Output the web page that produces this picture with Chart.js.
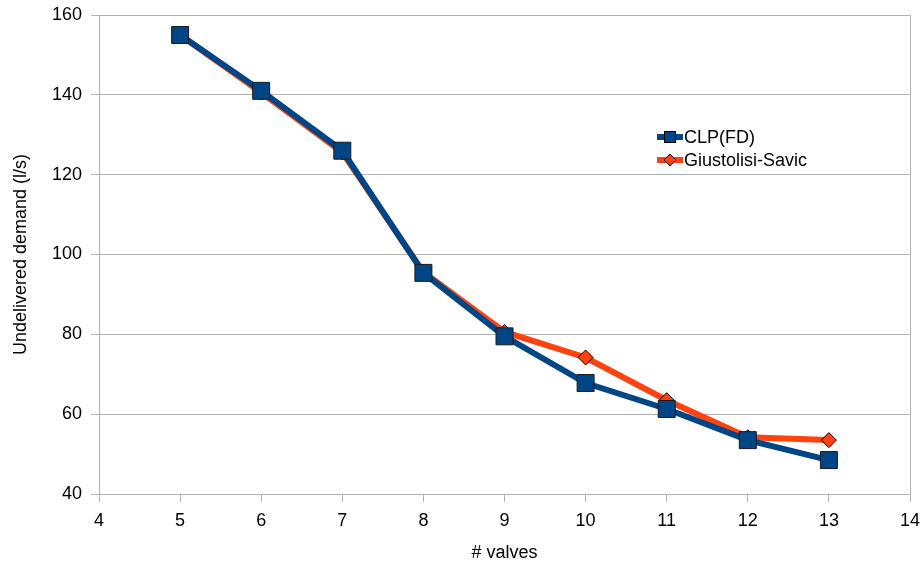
<!DOCTYPE html>
<html>
<head>
<meta charset="utf-8">
<script src="https://cdn.jsdelivr.net/npm/chart.js@4"></script>
<style>
  html, body { margin: 0; padding: 0; background: #fff; }
  #wrap { width: 923px; height: 566px; }
</style>
</head>
<body>
<div id="wrap"><canvas id="myChart" width="923" height="566"></canvas></div>
<script>
const valves = [5, 6, 7, 8, 9, 10, 11, 12, 13]
const clpFD = [155, 141, 126, 95.4, 79.5, 67.8, 61.3, 53.5, 48.5]
const giustolisi = [155, 140.6, 125.6, 95.6, 80.6, 74.2, 63.5, 54.2, 53.5]
const xTicks = [4, 5, 6, 7, 8, 9, 10, 11, 12, 13, 14]
const yTicks = [40, 60, 80, 100, 120, 140, 160]

const blue = '#004586'
const orange = '#ff420e'
const gridColor = '#b3b3b3'
const fontFam = '"Liberation Sans", Arial, sans-serif'

const toPoints = (xs, ys) => xs.map((x, i) => ({ x: x, y: ys[i] }))

// right border of the plot + legend inside the plot area
const framePlugin = {
    id: 'frame',
    afterDraw(chart) {
        const { ctx, chartArea } = chart
        ctx.save()
        ctx.strokeStyle = gridColor
        ctx.lineWidth = 1
        ctx.beginPath()
        ctx.moveTo(chartArea.right + 0.5, chartArea.top)
        ctx.lineTo(chartArea.right + 0.5, chartArea.bottom)
        ctx.stroke()

        const items = [
            { label: 'CLP(FD)', color: blue, shape: 'rect' },
            { label: 'Giustolisi-Savic', color: orange, shape: 'rectRot' }
        ]
        ctx.font = '18px ' + fontFam
        ctx.textBaseline = 'middle'
        items.forEach((it, i) => {
            const y = 137 + i * 23
            ctx.fillStyle = it.color
            ctx.fillRect(657, y - 3, 26, 6)
            ctx.strokeStyle = '#000'
            ctx.lineWidth = 1
            if (it.shape == 'rect') {
                ctx.fillRect(664, y - 6, 12, 12)
                ctx.strokeRect(664.5, y - 5.5, 11, 11)
            } else {
                ctx.beginPath()
                ctx.moveTo(670, y - 6)
                ctx.lineTo(676, y)
                ctx.lineTo(670, y + 6)
                ctx.lineTo(664, y)
                ctx.closePath()
                ctx.fill()
                ctx.stroke()
            }
            ctx.fillStyle = '#000'
            ctx.fillText(it.label, 684, y + 1)
        })
        ctx.restore()
    }
}

const ctx = document.getElementById('myChart')

new Chart(ctx, {
    type: 'line',
    data: {
        datasets: [
            {
                label: 'CLP(FD)',
                data: toPoints(valves, clpFD),
                borderColor: blue,
                backgroundColor: blue,
                borderWidth: 6,
                pointStyle: 'rect',
                pointRadius: 12,
                pointBorderColor: '#1a1a1a',
                pointBorderWidth: 1,
                pointBackgroundColor: blue,
                tension: 0
            },
            {
                label: 'Giustolisi-Savic',
                data: toPoints(valves, giustolisi),
                borderColor: orange,
                backgroundColor: orange,
                borderWidth: 6,
                pointStyle: 'rectRot',
                pointRadius: 7.5,
                pointBorderColor: '#000',
                pointBorderWidth: 1,
                pointBackgroundColor: orange,
                tension: 0
            }
        ]
    },
    options: {
        responsive: false,
        animation: false,
        layout: { padding: { top: 15, right: 13, left: 0, bottom: 0 } },
        plugins: {
            legend: { display: false },
            tooltip: { enabled: false }
        },
        scales: {
            x: {
                type: 'linear',
                min: 4,
                max: 14,
                afterBuildTicks: (axis) => { axis.ticks = xTicks.map(v => ({ value: v })) },
                afterFit: (axis) => {
                    axis.height = 72
                    axis.paddingLeft = 0
                    axis.paddingRight = 0
                },
                grid: { drawOnChartArea: false, color: gridColor, tickLength: 8 },
                border: { color: gridColor },
                ticks: { color: '#000', font: { family: fontFam, size: 18 }, padding: 8, maxRotation: 0 },
                title: { display: true, text: '# valves', color: '#000', font: { family: fontFam, size: 18 }, padding: { top: 6, bottom: 2 } }
            },
            y: {
                min: 40,
                max: 160,
                afterBuildTicks: (axis) => { axis.ticks = yTicks.map(v => ({ value: v })) },
                afterFit: (axis) => {
                    axis.width = 99
                    axis.paddingTop = 0
                    axis.paddingBottom = 0
                },
                grid: { color: gridColor, tickLength: 8 },
                border: { color: gridColor },
                ticks: { color: '#000', font: { family: fontFam, size: 18 }, padding: 9 },
                title: { display: true, text: 'Undelivered demand (l/s)', color: '#000', font: { family: fontFam, size: 18 }, padding: { top: 10, bottom: 6 } }
            }
        }
    },
    plugins: [framePlugin]
})
</script>
</body>
</html>
